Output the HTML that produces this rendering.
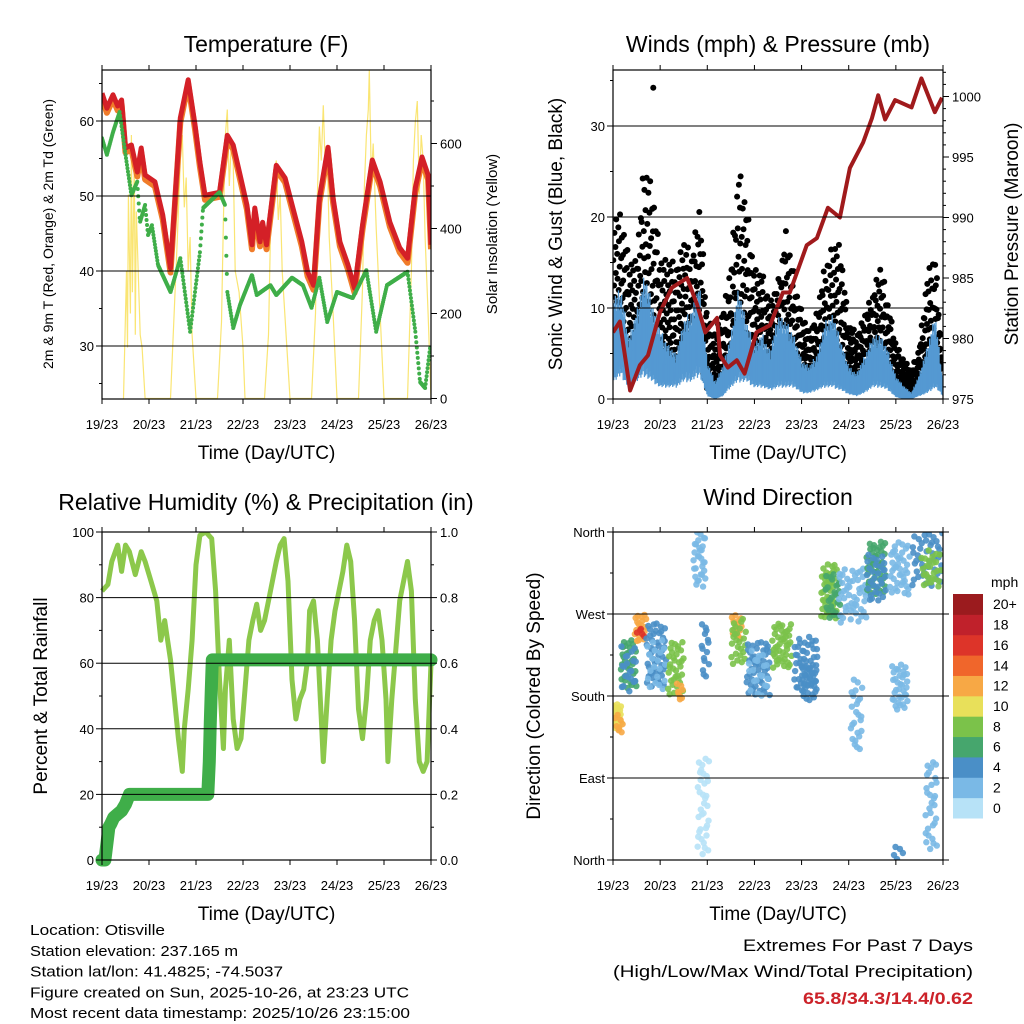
<!DOCTYPE html>
<html><head><meta charset="utf-8"><title>Weather Station Meteogram</title>
<style>
html,body{margin:0;padding:0;background:#fff;}
svg{display:block;font-family:"Liberation Sans",sans-serif;}
</style></head>
<body>
<svg id="chart" width="1024" height="1024" viewBox="0 0 1024 1024" xmlns="http://www.w3.org/2000/svg">
<rect width="1024" height="1024" fill="#fff"/>
</svg>
<script>
// ---------- DATA ----------
const dayLabels = ["19/23","20/23","21/23","22/23","23/23","24/23","25/23","26/23"];
const tempHours = [0,2.5,5.6,8,10,12,15,18,20,22,27,31,35,40,44,47.5,50,52.6,60,64,67,70.5,74,76.6,78,80.7,82,84,89,93.5,97.5,102,105,108,111,115.4,118,121.5,125.6,129,133,138,142,147,152,156,160,163.4,166.5,168];
const tempValues = [63.7,61.7,63.5,62,62.8,56.4,56.8,53.2,56.4,52.8,51.9,47.5,40.4,60.4,65.5,59.5,54.5,50.1,50.5,58.1,56.8,52.8,48.8,43.5,48.4,43.9,46.5,43.5,54.1,52.4,48.4,43.9,39.9,38.1,49.7,56.5,49.7,43.9,40.8,37.7,46.1,54.8,51.9,46.5,43.1,41.7,51.1,55.2,52.8,43.5];
const dewHours = [0,2.5,5.6,9,12,15,18,19.4,22,23.5,25.5,28.6,35,40,45,50,51.6,60,62.8,64,67,70.5,76.6,79,86,89,97,102.6,107,111,115,120,128,135,140,145.5,156,160,162.4,165,167.5];
const dewValues = [57.7,55.5,58.5,61.2,55.5,50.1,51.9,46.5,48.8,44.8,46.1,40.8,37.2,41.7,31.9,42.5,48.4,50.5,48.8,37.2,32.4,35.5,39.5,36.8,38.1,36.8,39.1,38.1,35.1,39.1,33.2,37.2,36.4,40.1,31.9,38.1,39.9,31.9,25.2,24.4,29.7];
const solarHours = [11,12.5,13,13.5,14.5,15,15.5,16.5,17,17.5,18.5,19.5,20.5,22, 35,37,38.5,40,41,42,43,44,45,46,48, 59,61,62,63,64,65,66,67,68,70,72,73, 83,85,86,87,88,89,90,91,92,94,96, 107,109,110,111,112,113,114,115,116,118,120, 131,133,134,135,136,136.5,137.5,138.5,140,142,144, 156,158,159,160,161,162,163,164,165,166.5,168];
const solarValues = [0,300,120,480,200,620,250,560,150,440,300,150,120,0, 0,220,380,560,620,450,520,300,380,150,0, 0,180,420,620,680,500,600,560,300,250,120,0, 0,150,380,480,520,560,420,480,300,150,0, 0,200,480,640,560,690,540,580,380,200,0, 0,260,500,620,680,772,520,600,400,200,0, 0,300,560,650,700,480,620,560,380,200,0];
const windHours = [0,4,8,12,16,20,24,28,32,36,40,44,48,52,56,60,64,68,72,76,80,84,88,92,96,100,104,108,112,116,120,124,128,132,136,140,144,148,152,156,160,164,168];
const gustMax = [21.6,21,16,15.5,27,24,16,15.5,15,18,16,21.6,9.5,7.3,10,14.7,26.8,21.6,14.7,14,11,13,19,14,10,7.3,10,15,17.5,17,8.3,7.3,9.5,11.7,15,11,6.2,4.5,3.1,6,14,16.5,3.5];
const windMax = [11.8,12.5,7,9.8,14.1,10.8,7.7,6.2,5.1,8.7,10,12.9,4.2,2,3.8,7.3,12.5,8.7,6.2,7.3,5.5,9.5,8.7,7.3,4.4,3.7,5.1,8.7,9.5,6.6,3.7,2.9,4.8,7,7.3,5.5,2.6,1.5,0.7,2.9,5.9,9.5,2];
const windMin = [3,4,2,3,4,3,2,2,2,3,3,4,0.5,0,0.5,2,3,3,2,2,1.5,2,2,2,1,1,1.5,2,2,1.5,0.8,0.5,1,2,2,1.5,0.3,0,0,0.5,1,2,0.5];
const presHours = [0,3.5,8.7,13.7,17.8,24,30,37.7,42.8,47,53,54.5,58.5,63,67,73,80,86.5,90,98.6,103.8,109.4,115.5,120.6,127.3,131.8,135,138.5,143.6,152,157,163.8,167.5];
const presValues = [980.5,981.4,975.7,977.8,978.6,982.2,984.2,985,982.8,980.5,981.7,978.6,977.6,978.2,977.1,980.5,981.1,983.8,983.8,987.7,988.3,990.8,990,994.1,996.2,998.2,1000.1,998.1,999.7,999.1,1001.5,998.7,999.9];
const rhHours = [0,3,5,8,10,12,14,17,20,22,25,28,30,32,35,37,39,41,42,44,46,48,50,53,56,58,60,62,63,65,67,69,71,73,75,77,79,81,83,85,87,89,91,93,95,97,99,101,103,105,106,108,110,112,113,115,117,119,121,123,125,127,129,131,133,135,137,139,141,143,145,146,148,150,152,154,156,158,160,162,164,166,168];
const rhValues = [82,84,91,96,88,96,94,87,94,91,85,79,67,73,61,49,37,27,40,52,67,90,99,100,98,82,55,34,52,67,43,34,37,52,67,73,78,70,73,79,85,91,96,98,85,55,43,49,52,61,76,79,67,43,30,49,67,76,82,88,96,91,73,46,37,49,67,73,76,67,49,30,49,64,79,85,91,82,49,30,27,30,60];
const precipHours = [0,1.5,2.5,3.5,4.5,6,8,10,12,14,30,54,54.8,55.3,55.8,56.3,168];
const precipValues = [0,0,0.05,0.1,0.11,0.13,0.14,0.15,0.17,0.2,0.2,0.2,0.3,0.42,0.52,0.61,0.61];
const dirHour  = [2,3,8,8,14,14,22,22,32,34,44,46,47,63,64,74,74,86,98,100,110,112,122,124,134,134,146,146,146,160,162,162];
const dirHSpan = [5,4,8,8,6,4,10,10,8,3,6,6,4,5,8,12,10,10,12,8,8,8,14,6,10,10,10,8,6,16,10,6];
const dirCenter= [158,150,215,210,255,250,225,215,210,185,330,60,230,255,240,210,205,235,215,195,295,290,290,160,320,310,320,190,5,330,320,60];
const dirSpan  = [30,20,55,50,30,12,70,60,60,20,60,110,60,30,50,60,50,50,60,40,60,50,60,80,60,50,60,50,20,60,40,100];
const dirSpeed = [9,12,6,4,11,15,4,2,7,11,1,0,3,11,7,4,2,7,3,4,7,5,2,2,6,4,1,2,3,4,7,1];
const dirCount = [25,8,35,20,20,5,50,20,35,8,30,35,15,15,25,50,20,45,50,25,45,25,50,25,45,30,40,35,5,45,25,30];
const speedLabels = ["0","2","4","6","8","10","12","14","16","18","20+"];
const speedColors = ["#b7e2f7","#7ab9e6","#4a8fc7","#46a66d","#7bc24a","#e8e05a","#f7a845","#f0662b","#dd3429","#c0212b","#9b1b1e"];

// ---------- HELPERS ----------
const NS="http://www.w3.org/2000/svg";
const svg=document.getElementById('chart');
function mk(tag,attrs,parent){const e=document.createElementNS(NS,tag);for(const k in attrs)e.setAttribute(k,attrs[k]);(parent||svg).appendChild(e);return e;}
function txt(s,x,y,size,anchor,parent,extra){const e=mk('text',Object.assign({x:x,y:y,'font-size':size,'text-anchor':anchor||'middle',fill:'#000'},extra||{}),parent);e.textContent=s;return e;}
function interp(hs,vs,h){if(h<=hs[0])return vs[0];for(let i=1;i<hs.length;i++){if(h<=hs[i]){const t=(h-hs[i-1])/(hs[i]-hs[i-1]);return vs[i-1]+t*(vs[i]-vs[i-1]);}}return vs[vs.length-1];}
function frac(k,a){return (k*a)%1;}
function halton(i,b){let f=1,r=0;while(i>0){f/=b;r+=f*(i%b);i=Math.floor(i/b);}return r;}

function panel(name,x0,y0,w,h){
  const g=mk('g',{});
  
  
  return {g:g,x0:x0,y0:y0,w:w,h:h,x:(hr)=>x0+hr/168*w};
}
function frame(p){
  const f=mk('rect',{x:p.x0,y:p.y0,width:p.w,height:p.h,fill:'none',stroke:'#000','stroke-width':1.2},p.g);
  
  
  const xt=mk('g',{},p.g);
  
  
  for(let d=0;d<dayLabels.length;d++){
    const x=p.x(d*24);
    mk('line',{x1:x,x2:x,y1:p.y0+p.h,y2:p.y0+p.h+5,stroke:'#000'},xt);
    mk('line',{x1:x,x2:x,y1:p.y0,y2:p.y0-5,stroke:'#000'},xt);
    const t=txt(dayLabels[d],x,p.y0+p.h+30,13,'middle',xt);
    
    
  }
  const at=txt('Time (Day/UTC)',p.x0+p.w/2,p.y0+p.h+60,19,'middle',xt);
  
  
}
function grid(p,vals,yf){for(const v of vals){mk('line',{x1:p.x0,x2:p.x0+p.w,y1:yf(v),y2:yf(v),stroke:'#000','stroke-width':1},p.g);}}
function ticksLeft(p,vals,labels,yf,minor){
  for(let i=0;i<vals.length;i++){const y=yf(vals[i]);mk('line',{x1:p.x0,x2:p.x0-6,y1:y,y2:y,stroke:'#000'},p.g);
    const t=txt(labels[i],p.x0-8,y+5,13,'end',p.g);}
  if(minor)for(const v of minor){const y=yf(v);if(y>=p.y0&&y<=p.y0+p.h)mk('line',{x1:p.x0,x2:p.x0-3,y1:y,y2:y,stroke:'#000'},p.g);}
}
function ticksRight(p,vals,labels,yf,minor){
  const xr=p.x0+p.w;
  for(let i=0;i<vals.length;i++){const y=yf(vals[i]);mk('line',{x1:xr,x2:xr+6,y1:y,y2:y,stroke:'#000'},p.g);
    const t=txt(labels[i],xr+9,y+5,13,'start',p.g);}
  if(minor)for(const v of minor){const y=yf(v);if(y>=p.y0&&y<=p.y0+p.h)mk('line',{x1:xr,x2:xr+3,y1:y,y2:y,stroke:'#000'},p.g);}
}
function vtitle(s,x,y,size,parent,name){const t=txt(s,x,y,size,'middle',parent,{transform:`rotate(-90 ${x} ${y})`});return t;}
function title(s,x,y,parent,name){const t=txt(s,x,y,23,'middle',parent);}
function pathFrom(hs,vs,xf,yf){return hs.map((h,i)=>(i?'L':'M')+xf(h).toFixed(1)+','+yf(vs[i]).toFixed(1)).join('');}

// ---------- PANEL 1: TEMPERATURE ----------
{
const p=panel('temperature-panel',102,70,329,329);
const tY=(t)=>346-(t-30)*7.5;
const sY=(s)=>398.5-s*0.425;
const clip=mk('clipPath',{id:'c1'},p.g);mk('rect',{x:p.x0,y:p.y0,width:p.w,height:p.h},clip);
const inner=mk('g',{'clip-path':'url(#c1)'},p.g);
grid(p,[30,40,50,60],tY);
const sol=mk('path',{d:pathFrom(solarHours,solarValues,p.x,sY),fill:'none',stroke:'#f9e05a','stroke-width':1.2,'stroke-opacity':0.85},inner);


const org=mk('path',{d:pathFrom(tempHours,tempValues.map(v=>v-0.6),p.x,tY),fill:'none',stroke:'#f07c2a','stroke-width':6,'stroke-linejoin':'round'},inner);


const red=mk('path',{d:pathFrom(tempHours,tempValues,p.x,tY),fill:'none',stroke:'#d42027','stroke-width':5,'stroke-linejoin':'round'},inner);


const dg=mk('g',{},inner);


for(let h=0;h<=168;h+=0.25){mk('circle',{cx:p.x(h),cy:tY(interp(dewHours,dewValues,h)),r:2,fill:'#3fae49'},dg);}
frame(p);
ticksLeft(p,[30,40,50,60],['30','40','50','60'],tY,[25,35,45,55,65]);
ticksRight(p,[0,200,400,600],['0','200','400','600'],sY,[100,300,500,700]);
title('Temperature (F)',266,52,p.g,'temperature-title');
vtitle('2m & 9m T (Red, Orange) & 2m Td (Green)',53,234,14,p.g,'temperature-y-axis-title');
vtitle('Solar Insolation (Yellow)',497,234,15,p.g,'solar-y-axis-title');
}

// ---------- PANEL 2: WINDS ----------
{
const p=panel('winds-panel',613,70,330,329);
const wY=(v)=>399-v*9.1;
const pY=(v)=>399-(v-975)*12.1;
const clip=mk('clipPath',{id:'c2'},p.g);mk('rect',{x:p.x0,y:p.y0,width:p.w,height:p.h},clip);
const inner=mk('g',{'clip-path':'url(#c2)'},p.g);
grid(p,[10,20,30],wY);
const gg=mk('g',{},inner);


let k=0;
for(let h=0;h<=168;h+=0.12){k++;
  const hi=interp(windHours,gustMax,h), lo=interp(windHours,windMin,h)+0.5;
  const f=Math.pow(halton(k,2),1.5);
  mk('circle',{cx:p.x(h+(halton(k,3)-0.5)*0.2),cy:wY(lo+(hi-lo)*f),r:3,fill:'#000'},gg);
}
mk('circle',{cx:p.x(20.5),cy:wY(34.2),r:3,fill:'#000'},gg);
const bg=mk('g',{},inner);


let j=0;
for(let h=0;h<=168;h+=0.2){j++;
  const hi=interp(windHours,windMax,h)*(0.55+0.45*halton(j,2)), lo=interp(windHours,windMin,h)*(0.6+0.6*halton(j,3));
  mk('line',{x1:p.x(h),x2:p.x(h),y1:wY(lo),y2:wY(hi),stroke:'#5499d2','stroke-width':1.3},bg);
}
const pr=mk('path',{d:pathFrom(presHours,presValues,p.x,pY),fill:'none',stroke:'#a01a1c','stroke-width':4,'stroke-linejoin':'round'},inner);


frame(p);
ticksLeft(p,[0,10,20,30],['0','10','20','30'],wY,[5,15,25,35]);
ticksRight(p,[975,980,985,990,995,1000],['975','980','985','990','995','1000'],pY,[976,977,978,979,981,982,983,984,986,987,988,989,991,992,993,994,996,997,998,999,1001,1002]);
title('Winds (mph) & Pressure (mb)',778,52,p.g,'winds-title');
vtitle('Sonic Wind & Gust (Blue, Black)',562,234,19,p.g,'wind-y-axis-title');
vtitle('Station Pressure (Maroon)',1018,234,19,p.g,'pressure-y-axis-title');
}

// ---------- PANEL 3: RH & PRECIP ----------
{
const p=panel('humidity-panel',102,532,329,328);
const rY=(v)=>860-v*3.28;
const qY=(v)=>860-v*328;
const clip=mk('clipPath',{id:'c3'},p.g);mk('rect',{x:p.x0-8,y:p.y0,width:p.w+16,height:p.h+8},clip);
const inner=mk('g',{'clip-path':'url(#c3)'},p.g);
grid(p,[20,40,60,80],rY);
const rh=mk('path',{d:pathFrom(rhHours,rhValues,p.x,rY),fill:'none',stroke:'#8cc84b','stroke-width':5,'stroke-linejoin':'round'},inner);


const pc=mk('path',{d:pathFrom(precipHours,precipValues,p.x,qY),fill:'none',stroke:'#3fae49','stroke-width':13,'stroke-linejoin':'round','stroke-linecap':'round'},inner);


frame(p);
ticksLeft(p,[0,20,40,60,80,100],['0','20','40','60','80','100'],rY,[10,30,50,70,90]);
ticksRight(p,[0,0.2,0.4,0.6,0.8,1.0],['0.0','0.2','0.4','0.6','0.8','1.0'],qY,[0.1,0.3,0.5,0.7,0.9]);
title('Relative Humidity (%) & Precipitation (in)',266,510,p.g,'humidity-title');
vtitle('Percent & Total Rainfall',47,696,19,p.g,'humidity-y-axis-title');
}

// ---------- PANEL 4: WIND DIRECTION ----------
{
const p=panel('wind-direction-panel',613,532,330,328);
const dY=(d)=>860-d*328/360;
const clip=mk('clipPath',{id:'c4'},p.g);mk('rect',{x:p.x0,y:p.y0,width:p.w,height:p.h},clip);
const inner=mk('g',{'clip-path':'url(#c4)'},p.g);
grid(p,[90,180,270],dY);
const sg=mk('g',{},inner);


let k=0;
for(let c=0;c<dirHour.length;c++){
  const col=speedColors[Math.min(10,Math.round(dirSpeed[c]/2))];
  for(let n=0;n<dirCount[c];n++){k++;
    const h=dirHour[c]+(halton(k,2)-0.5)*dirHSpan[c];
    let d=dirCenter[c]+(halton(k,3)-0.5)*dirSpan[c];
    d=((d%360)+360)%360;
    mk('circle',{cx:p.x(h),cy:dY(d),r:3.2,fill:col,'fill-opacity':0.9},sg);
  }
}
frame(p);
ticksLeft(p,[0,90,180,270,360],['North','East','South','West','North'],dY,[45,135,225,315]);
ticksRight(p,[0,90,180,270,360],['','','','',''],dY);
title('Wind Direction',778,505,p.g,'wind-direction-title');
vtitle('Direction (Colored By Speed)',540,696,19,p.g,'direction-y-axis-title');
const cb=mk('g',{});


const bh=224/11;
for(let i=0;i<speedColors.length;i++){
  const y=818-(i+1)*bh;
  const r=mk('rect',{x:953,y:y,width:30,height:bh+0.5,fill:speedColors[i]},cb);
  
  
  const t=txt(speedLabels[i],993,y+bh/2+5,14,'start',cb);
  
  
}
const u=txt('mph',991,587,14,'start',cb);


}

// ---------- FOOTER ----------
{
const g=mk('g',{});


const lines=["Location: Otisville","Station elevation: 237.165 m","Station lat/lon: 41.4825; -74.5037","Figure created on Sun, 2025-10-26, at 23:23 UTC","Most recent data timestamp: 2025/10/26 23:15:00"];
const lens=[135,208,253,379,380];
lines.forEach((s,i)=>{txt(s,30,935+i*20.8,14.5,'start',g,{textLength:lens[i],lengthAdjust:'spacingAndGlyphs'});});
const e=mk('g',{});


txt('Extremes For Past 7 Days',973,951,17,'end',e,{textLength:230,lengthAdjust:'spacingAndGlyphs'});
txt('(High/Low/Max Wind/Total Precipitation)',973,977,17,'end',e,{textLength:360,lengthAdjust:'spacingAndGlyphs'});
txt('65.8/34.3/14.4/0.62',973,1004,17,'end',e,{fill:'#cc2229','font-weight':'bold',textLength:170,lengthAdjust:'spacingAndGlyphs'});
}
</script>
</body></html>
